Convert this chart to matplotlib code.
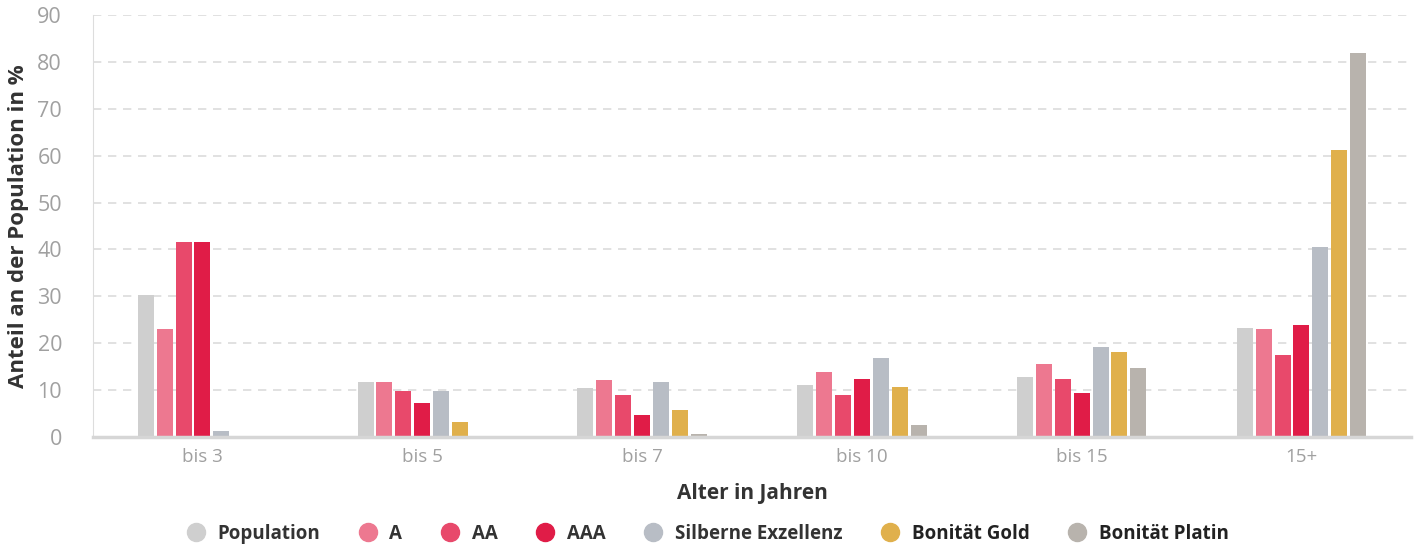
import numpy as np
import matplotlib.pyplot as plt
from matplotlib.lines import Line2D

# Daten
kategorien = ['bis 3', 'bis 5', 'bis 7', 'bis 10', 'bis 15', '15+']
serien = ['Population', 'A', 'AA', 'AAA', 'Silberne Exzellenz', 'Bonität Gold', 'Bonität Platin']
population = [30.2, 11.7, 10.4, 11.1, 12.8, 23.2]
rating_a = [23.0, 11.7, 12.2, 13.8, 15.6, 23.0]
rating_aa = [41.6, 9.8, 9.0, 8.9, 12.3, 17.5]
rating_aaa = [41.6, 7.2, 4.7, 12.3, 9.3, 23.9]
silber = [1.3, 9.8, 11.7, 16.8, 19.2, 40.5]
gold = [0.0, 3.2, 5.8, 10.6, 18.1, 61.2]
platin = [0.0, 0.0, 0.6, 2.5, 14.7, 81.9]

werte = [population, rating_a, rating_aa, rating_aaa, silber, gold, platin]
farben = ['#cfcfcf', '#ed7890', '#e8496b', '#e01c47', '#b8bdc5', '#e0b04c', '#b8b3ad']

plt.rcParams['font.family'] = ['Open Sans', 'DejaVu Sans']

fig = plt.figure(figsize=(14.2, 5.46), dpi=100)
ax = fig.add_axes([0.0652, 0.1996, 0.9287, 0.773])

x = np.arange(len(kategorien))
slot = 0.086
ancho = 0.0728
for i, (w, c) in enumerate(zip(werte, farben)):
    ax.bar(x + (i - 3) * slot, w, width=ancho, color=c, zorder=3)

ax.set_xlim(-0.5, len(kategorien) - 0.5)
ax.set_ylim(0, 90)
ax.set_yticks(np.arange(0, 91, 10))
ax.set_xticks(x)
ax.set_xticklabels(kategorien)
ax.tick_params(axis='both', length=0, labelcolor='#a0a0a0')
ax.tick_params(axis='x', pad=8, labelsize=13.5)
ax.tick_params(axis='y', pad=22, labelsize=15.5)

ax.grid(True, axis='y', linestyle=(0, (5, 4)), color='#dcdcdc', linewidth=1.2, zorder=0)
for s in ['top', 'right']:
    ax.spines[s].set_visible(False)
ax.spines['left'].set_color('#dddddd')
ax.spines['bottom'].set_color('#d6d6d6')
ax.spines['bottom'].set_linewidth(2.5)
ax.spines['bottom'].set_zorder(4)

ax.set_ylabel('Anteil an der Population in %', fontsize=16, fontweight='bold', color='#333333', labelpad=6)
ax.set_xlabel('Alter in Jahren', fontsize=15, fontweight='bold', color='#333333', labelpad=12)

handles = [Line2D([0], [0], marker='o', linestyle='', markersize=13,
                  markerfacecolor=c, markeredgecolor=c) for c in farben]
leg = fig.legend(handles, serien, loc='center', bbox_to_anchor=(0.495, 0.022), ncol=7,
                 frameon=False, fontsize=13.5, handletextpad=0.15, columnspacing=1.55)
for j, t in enumerate(leg.get_texts()):
    t.set_fontweight('bold')
    t.set_color('#333333' if j < 5 else '#222222')

fig.savefig('out.png', dpi=100)
